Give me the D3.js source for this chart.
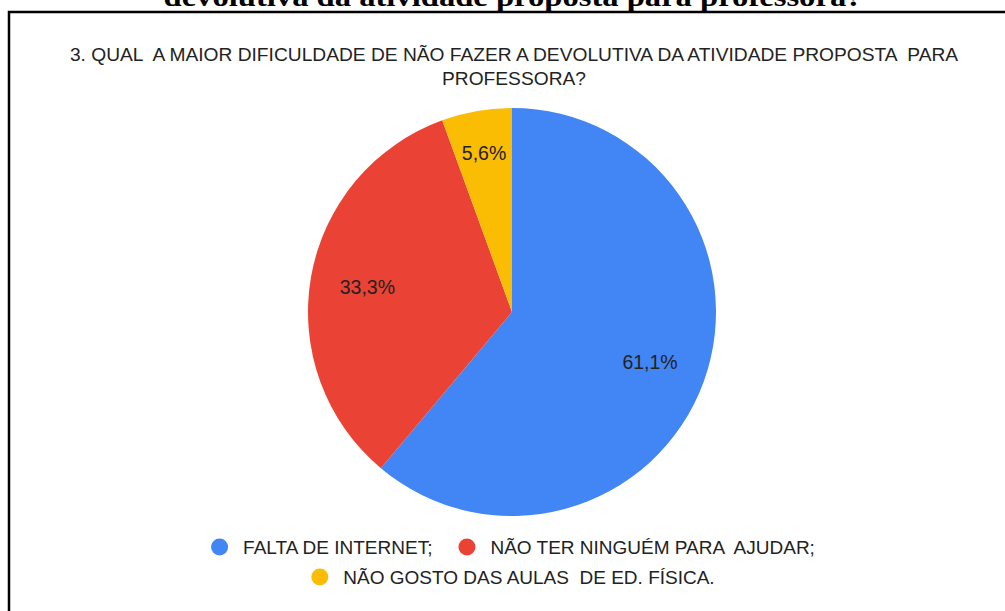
<!DOCTYPE html>
<html>
<head>
<meta charset="utf-8">
<script src="https://cdn.jsdelivr.net/npm/d3@7"></script>
<style>
  body { margin: 0; background: #fff; }
  svg { display: block; }
</style>
</head>
<body>
<svg id="chart" width="1005" height="611"></svg>
<script>
var categories = ['FALTA DE INTERNET;', 'NÃO TER NINGUÉM PARA  AJUDAR;', 'NÃO GOSTO DAS AULAS  DE ED. FÍSICA.'];
var answers = [11, 6, 1];
var sliceLabels = ['61,1%', '33,3%', '5,6%'];
var colors = ['#4285f4', '#ea4335', '#fbbc04'];
var titleLines = ['3. QUAL  A MAIOR DIFICULDADE DE NÃO FAZER A DEVOLUTIVA DA ATIVIDADE PROPOSTA  PARA', 'PROFESSORA?'];
var captionText = 'devolutiva da atividade proposta para professora?';

var svg = d3.select('#chart');
var width = +svg.attr('width');
var cx = 512, cy = 312, radius = 204;

// caption of the document, mostly cut off at the top
svg.append('text')
    .attr('x', 513)
    .attr('y', 6)
    .attr('text-anchor', 'middle')
    .style('font-family', '"Liberation Serif", "Times New Roman", serif')
    .style('font-weight', 'bold')
    .style('font-size', '27px')
    .attr('textLength', 699)
    .attr('lengthAdjust', 'spacingAndGlyphs')
    .text(captionText);

// frame round the chart
svg.append('path')
    .attr('d', `M9,${611 + 5} V12 H${width + 5}`)
    .attr('fill', 'none')
    .attr('stroke', '#000')
    .attr('stroke-width', 2.5);

var font = '"Liberation Sans", Arial, sans-serif';

svg.selectAll('.title-line')
    .data(titleLines)
    .enter()
    .append('text')
        .classed('title-line', true)
        .attr('x', 514)
        .attr('y', (d, i) => 61 + i * 23.5)
        .attr('text-anchor', 'middle')
        .style('font-family', font)
        .style('font-size', '19.2px')
        .style('white-space', 'pre')
        .attr('fill', '#222')
        .text(d => d);

var color = d3.scaleOrdinal().domain(categories).range(colors);

var arcs = d3.pie()
    .value(d => d.value)
    .sort(null)
    (categories.map((c, i) => ({ name: c, value: answers[i], label: sliceLabels[i] })));

var path = d3.arc().innerRadius(0).outerRadius(radius);

var g = svg.append('g').attr('transform', `translate(${cx}, ${cy})`);

g.selectAll('.arc')
    .data(arcs)
    .enter()
    .append('path')
        .classed('arc', true)
        .attr('fill', d => color(d.data.name))
        .attr('d', path);

function labelPos(d) {
    var r = (d.endAngle - d.startAngle) < 0.5 ? radius * 0.79 : radius * 0.72;
    return d3.arc().innerRadius(r).outerRadius(r).centroid(d);
}

g.selectAll('.slice-label')
    .data(arcs)
    .enter()
    .append('text')
        .classed('slice-label', true)
        .attr('transform', d => `translate(${labelPos(d)})`)
        .attr('text-anchor', 'middle')
        .attr('dy', '0.36em')
        .style('font-family', font)
        .style('font-size', '19.5px')
        .attr('fill', '#222')
        .text(d => d.data.label);

// legend, two centred rows
var legendRows = [[0, 1], [2]];
var dotR = 8.5, dotGap = 15, itemGap = 26;

legendRows.forEach((row, ri) => {
    var rowG = svg.append('g');
    var x = 0;
    row.forEach(i => {
        var item = rowG.append('g').attr('transform', `translate(${x}, 0)`);
        item.append('circle')
            .attr('cx', dotR)
            .attr('cy', 0)
            .attr('r', dotR)
            .attr('fill', colors[i]);
        var t = item.append('text')
            .attr('x', dotR * 2 + dotGap)
            .attr('dy', '0.36em')
            .style('font-family', font)
            .style('font-size', '19px')
            .style('white-space', 'pre')
            .attr('fill', '#222')
            .text(categories[i]);
        x += dotR * 2 + dotGap + t.node().getComputedTextLength() + itemGap;
    });
    var rowW = x - itemGap;
    rowG.attr('transform', `translate(${513 - rowW / 2}, ${547 + ri * 30})`);
});
</script>
</body>
</html>
